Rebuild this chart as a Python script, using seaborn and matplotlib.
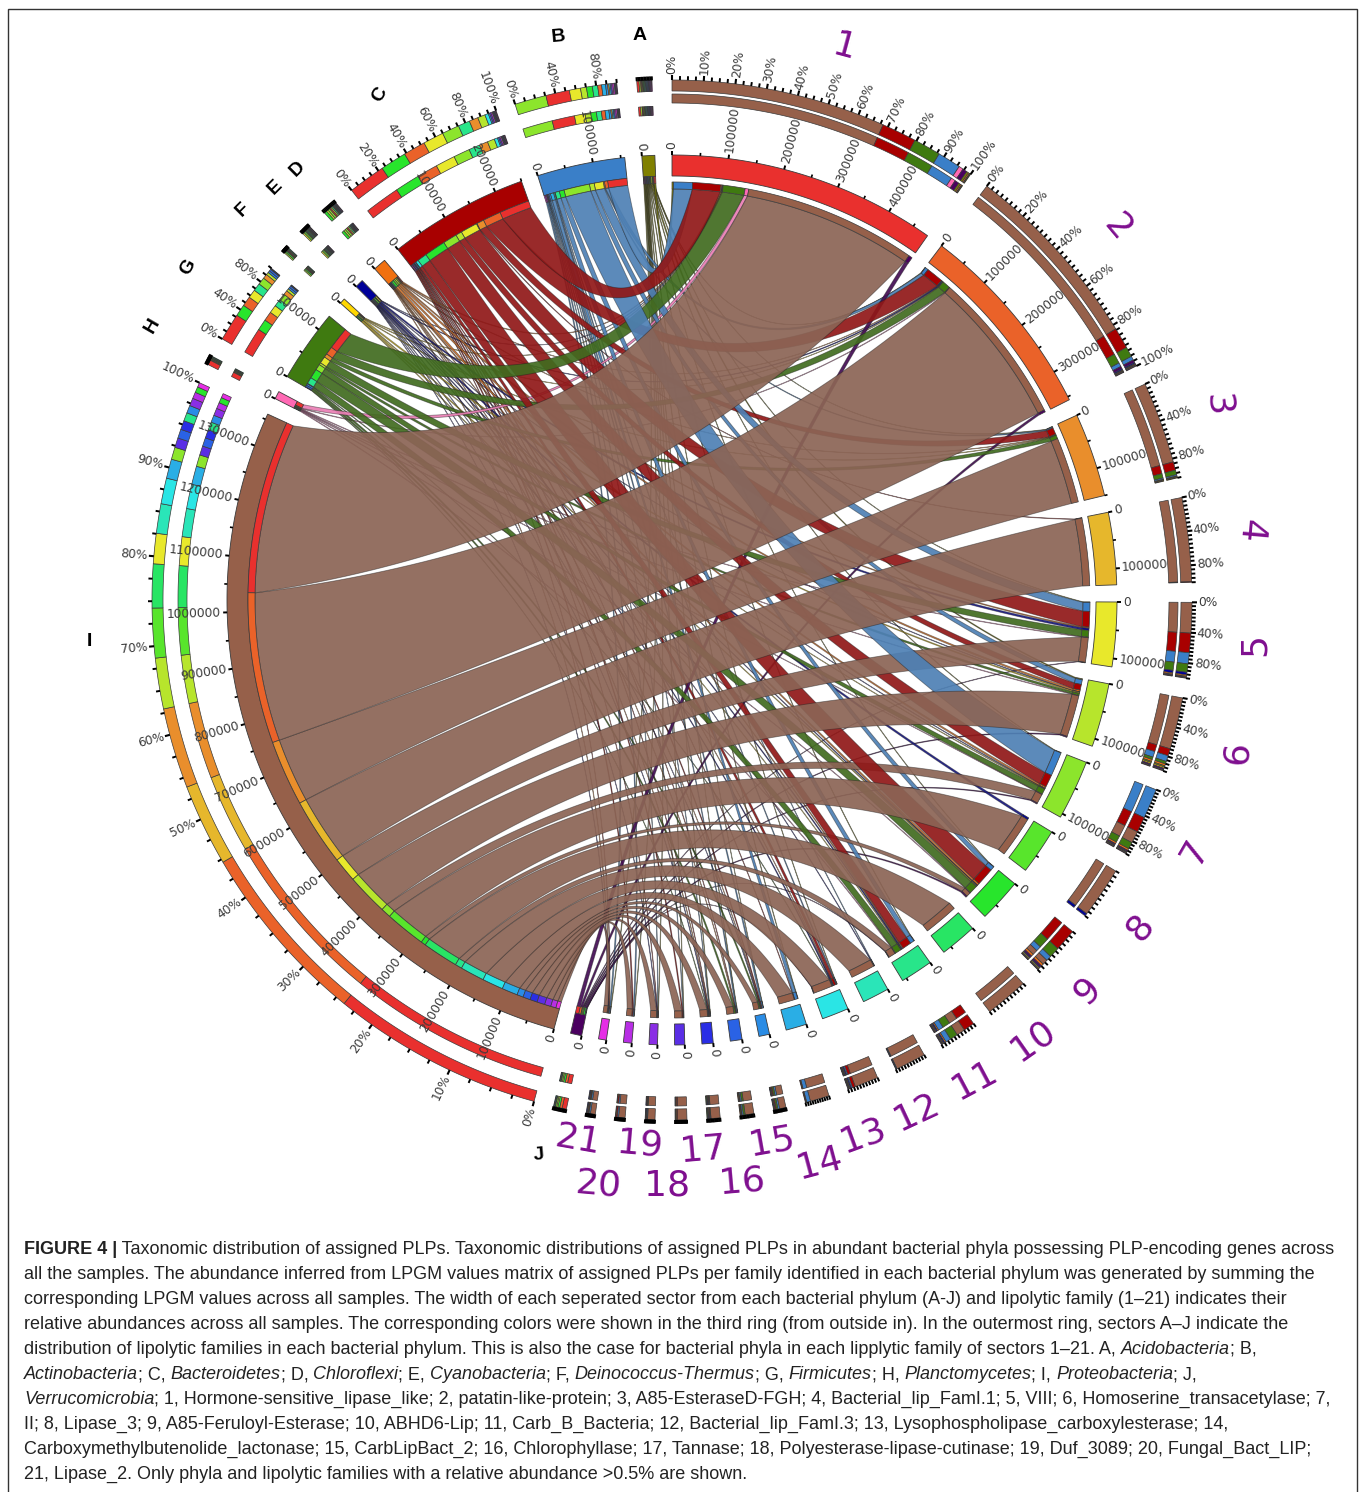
import numpy as np
import matplotlib
matplotlib.use("Agg")
import matplotlib.pyplot as plt
from matplotlib.patches import Polygon, Rectangle
import seaborn as sns

# sector sizes, thousands of LPGM, clockwise from the top
family_names = [str(i) for i in range(1, 22)]
family_totals = [480, 356, 150, 129, 115, 114, 107, 82, 78, 66, 58, 48, 48, 37, 19, 21, 20, 18, 15, 15, 14]
phylum_names = ["J", "I", "H", "G", "F", "E", "D", "C", "B", "A"]
phylum_totals = [20, 1360, 14, 130, 10, 15, 23, 250, 157, 23]

# phylum x family, columns are families 1-21
flow_A = [3, 1, 1, 0, 1, 2, 1, 0, 1, 0, 1, 0, 1, 1, 1, 1, 1, 1, 1, 1, 1]
flow_B = [36, 6, 2, 0, 17, 9, 48, 0, 9, 0, 8, 1, 2, 6, 3, 2, 1, 1, 1, 2, 2]
flow_C = [54, 32, 13, 1, 30, 11, 25, 0, 38, 0, 17, 0, 5, 1, 2, 1, 1, 2, 1, 2, 1]
flow_D = [2, 1, 1, 0, 2, 3, 3, 0, 4, 0, 2, 0, 1, 0, 1, 1, 1, 0, 0, 0, 1]
flow_E = [1, 2, 0, 0, 4, 1, 1, 4, 2, 0, 2, 1, 2, 0, 1, 0, 1, 0, 1, 0, 1]
flow_F = [1, 1, 1, 0, 0, 2, 1, 0, 2, 0, 1, 0, 0, 0, 0, 0, 0, 0, 0, 0, 0]
flow_G = [42, 15, 7, 0, 13, 4, 11, 0, 18, 0, 12, 0, 1, 0, 3, 3, 1, 0, 0, 0, 0]
flow_H = [7, 1, 0, 0, 1, 1, 1, 0, 1, 0, 1, 0, 0, 0, 0, 0, 0, 0, 0, 0, 0]
flow_I = [330, 287, 125, 128, 47, 79, 19, 77, 9, 68, 13, 46, 40, 30, 12, 14, 14, 15, 12, 10, 7]
flow_J = [7, 4, 0, 0, 1, 2, 2, 0, 3, 0, 1, 0, 1, 0, 0, 0, 0, 0, 0, 0, 0]

band_major = 100
band_minor = 50

# percent ring ticks: label step, tick step
family_pct = [(10, 2.5), (20, 2.5), (40, 5), (40, 5), (40, 5), (40, 5), (40, 5)] + [(0, 10)] * 14
phylum_pct = [(0, 10), (10, 2.5), (0, 10), (40, 10), (0, 10), (0, 10), (0, 10), (20, 5), (40, 10), (0, 10)]

family_colors = ["#e9302e", "#ea6229", "#e98e2c", "#e6b72c", "#e8e82b", "#b7e52c", "#8ce52c",
                 "#58e52c", "#28e52c", "#28e564", "#28e58a", "#2ae5b8", "#2ae5e5", "#2aaee5",
                 "#2a8ce5", "#2a62e5", "#2a2ee5", "#5a2ee5", "#8a2ee5", "#b82ee5", "#e52ee5"]
phylum_colors = {"A": "#808000", "B": "#3a7fc8", "C": "#a80000", "D": "#f07010", "E": "#000099",
                 "F": "#ffd700", "G": "#3f7a10", "H": "#ff69b4", "I": "#96604a", "J": "#4b0060"}

caption = [
    "**FIGURE 4 |** Taxonomic distribution of assigned PLPs. Taxonomic distributions of assigned PLPs in abundant bacterial phyla possessing PLP-encoding genes across",
    "all the samples. The abundance inferred from LPGM values matrix of assigned PLPs per family identified in each bacterial phylum was generated by summing the",
    "corresponding LPGM values across all samples. The width of each seperated sector from each bacterial phylum (A-J) and lipolytic family (1–21) indicates their",
    "relative abundances across all samples. The corresponding colors were shown in the third ring (from outside in). In the outermost ring, sectors A–J indicate the",
    "distribution of lipolytic families in each bacterial phylum. This is also the case for bacterial phyla in each lipplytic family of sectors 1–21. A, *Acidobacteria*; B,",
    "*Actinobacteria*; C, *Bacteroidetes*; D, *Chloroflexi*; E, *Cyanobacteria*; F, *Deinococcus-Thermus*; G, *Firmicutes*; H, *Planctomycetes*; I, *Proteobacteria*; J,",
    "*Verrucomicrobia*; 1, Hormone-sensitive_lipase_like; 2, patatin-like-protein; 3, A85-EsteraseD-FGH; 4, Bacterial_lip_FamI.1; 5, VIII; 6, Homoserine_transacetylase; 7,",
    "II; 8, Lipase_3; 9, A85-Feruloyl-Esterase; 10, ABHD6-Lip; 11, Carb_B_Bacteria; 12, Bacterial_lip_FamI.3; 13, Lysophospholipase_carboxylesterase; 14,",
    "Carboxymethylbutenolide_lactonase; 15, CarbLipBact_2; 16, Chlorophyllase; 17, Tannase; 18, Polyesterase-lipase-cutinase; 19, Duf_3089; 20, Fungal_Bact_LIP;",
    "21, Lipase_2. Only phyla and lipolytic families with a relative abundance >0.5% are shown.",
]

# layout, pixels of the picture
CX, CY = 672, 600
family_label_xy = [(845, 47), (1117, 227), (1218, 405), (1250, 530), (1255, 645), (1237, 753), (1195, 852),
                   (1140, 927), (1087, 990), (1033, 1040), (975, 1080), (917, 1112), (863, 1135), (820, 1163),
                   (772, 1142), (742, 1182), (703, 1150), (667, 1185), (640, 1145), (598, 1185), (578, 1140)]
family_label_rot = [-15, -50, -85, -95, 90, 85, 60, 50, 45, 35, 28, 25, 20, 15, 10, 5, 5, 0, -5, -5, -10]
phylum_label_xy = {"A": (640, 35), "B": (558, 37), "C": (380, 95), "D": (298, 169), "E": (275, 187),
                   "F": (243, 210), "G": (188, 267), "H": (152, 326), "I": (89, 642), "J": (539, 1155)}
phylum_label_rot = {"A": 0, "B": 5, "C": 60, "D": 45, "E": 45, "F": 45, "G": 60, "H": 60, "I": 0, "J": 5}

sns.set_style("white")
plt.rcParams["font.family"] = ["DejaVu Sans"]

fig = plt.figure(figsize=(13.6, 14.92), dpi=100)
ax = fig.add_axes([0, 0, 1, 1])
ax.set_xlim(-CX, 1360 - CX)
ax.set_ylim(CY - 1492, CY)
ax.set_axis_off()
sns.despine(ax=ax, left=True, bottom=True)


def polar(r, deg):
    t = np.radians(deg)
    return np.array([r * np.sin(t), r * np.cos(t)]).T


def wedge(r0, r1, a0, a1, color, z=3, lw=0.6):
    n = max(3, int(abs(a1 - a0) * 2) + 2)
    aa = np.linspace(a0, a1, n)
    pts = np.vstack([polar(r1, aa), polar(r0, aa[::-1])])
    ax.add_patch(Polygon(pts, closed=True, facecolor=color, edgecolor="#3a3a3a", linewidth=lw, zorder=z))


def bezier(a, b, r=None):
    diff = (b - a + 180) % 360 - 180
    half = abs(diff) / 2
    rb = 260 * max(0, 1 - half / 85)
    c = polar(rb, a + diff / 2)
    p0 = polar(r[0], a)
    p1 = polar(r[1], b)
    t = np.linspace(0, 1, 60)[:, None]
    return (1 - t) ** 2 * p0 + 2 * t * (1 - t) * c + t ** 2 * p1


def tick(r, deg, length, lw):
    p = polar(np.array([r, r + length]), np.array([deg, deg]))
    ax.plot(p[:, 0], p[:, 1], color="black", lw=lw, solid_capstyle="butt", zorder=4)


def radial_text(r, deg, s, size=8.8):
    d = deg % 360
    x, y = polar(r, d)
    if d <= 180:
        rot, ha = 90 - d, "left"
    else:
        rot, ha = 270 - d, "right"
    ax.text(x, y, s, rotation=rot, rotation_mode="anchor", ha=ha, va="center",
            fontsize=size, color="#3a3a3a", zorder=6)


flows = {"A": flow_A, "B": flow_B, "C": flow_C, "D": flow_D, "E": flow_E,
         "F": flow_F, "G": flow_G, "H": flow_H, "I": flow_I, "J": flow_J}
phylum_order = ["A", "B", "C", "D", "E", "F", "G", "H", "I", "J"]

gap = 2.21
deg_per_unit = (360 - gap * 31) / (sum(family_totals) + sum(phylum_totals))

sectors = []
angle = 0.0
for i, name in enumerate(family_names):
    sectors.append(("family", i, name, family_totals[i], angle, family_colors[i], family_pct[i]))
    angle += family_totals[i] * deg_per_unit + gap
for i, name in enumerate(phylum_names):
    sectors.append(("phylum", i, name, phylum_totals[i], angle, phylum_colors[name], phylum_pct[i]))
    angle += phylum_totals[i] * deg_per_unit + gap

starts = {s[2]: s[4] for s in sectors}
spans = {s[2]: s[3] * deg_per_unit for s in sectors}

# where every link lands on its two sectors
fam_slots = {}
for name in family_names:
    j = int(name) - 1
    col = [flows[p][j] for p in phylum_order]
    scale = spans[name] / sum(col)
    a = starts[name]
    for p, v in zip(phylum_order, col):
        fam_slots[(p, j)] = (a, a + v * scale)
        a += v * scale

phy_slots = {}
for p in phylum_order:
    row = flows[p]
    scale = spans[p] / sum(row)
    a = starts[p]
    for j in range(20, -1, -1):
        phy_slots[(p, j)] = (a, a + row[j] * scale)
        a += row[j] * scale

# links, biggest last so the brown ones lie on top
R_FAM = 411
R_PHY = 417
links = [(flows[p][j], p, j) for p in phylum_order for j in range(21) if flows[p][j] > 0]
links.sort(key=lambda l: l[0])
for order, (v, p, j) in enumerate(links):
    a0, a1 = fam_slots[(p, j)]
    b0, b1 = phy_slots[(p, j)]
    aa = np.linspace(a0, a1, 12)
    bb = np.linspace(b0, b1, max(3, int(b1 - b0) * 3))
    pts = np.vstack([polar(R_FAM, aa), bezier(a1, b0, (R_FAM, R_PHY)),
                     polar(R_PHY, bb), bezier(b1, a0, (R_PHY, R_FAM))])
    face = sns.desaturate(phylum_colors[p], 0.72)
    ax.add_patch(Polygon(pts, closed=True, facecolor=(*face, 0.92), edgecolor=(0.1, 0.1, 0.1, 0.45),
                         linewidth=0.6, zorder=2 + order * 1e-3))

# sector bands, rings and ticks
for kind, i, name, total, a0, color, pct in sectors:
    a1 = a0 + total * deg_per_unit
    wedge(424, 445, a0, a1, color)

    # band ticks and labels
    for v in np.arange(0, total + 1, band_minor):
        deg = a0 + v * deg_per_unit
        if v % band_major == 0:
            tick(445, deg, 4, 1.4)
            radial_text(451, deg, str(int(v) * 1000))
        else:
            tick(445, deg, 3, 1.2)

    # third ring
    if kind == "family":
        j = int(name) - 1
        for p in phylum_order:
            s0, s1 = fam_slots[(p, j)]
            if s1 > s0:
                wedge(411, 418, s0, s1, phylum_colors[p], lw=0.5)
        ring_parts = [(flows[p][j], phylum_colors[p]) for p in phylum_order if flows[p][j] > 0]
        rings = [(497, 506), (509, 520)]
    else:
        for j in range(21):
            s0, s1 = phy_slots[(name, j)]
            if s1 > s0:
                wedge(417, 424, s0, s1, family_colors[j], lw=0.5)
        ring_parts = [(flows[name][j], family_colors[j]) for j in range(21) if flows[name][j] > 0]
        rings = [(485, 494), (509, 520)]

    # the two outer percent rings, biggest share first
    ring_parts.sort(key=lambda x: -x[0])
    whole = sum(x[0] for x in ring_parts)
    for r0, r1 in rings:
        a = a0
        for v, c in ring_parts:
            step = v / whole * (a1 - a0)
            wedge(r0, r1, a, a + step, c, lw=0.5)
            a += step

    label_step, tick_step = pct
    for q in np.arange(0, 100.01, tick_step):
        deg = a0 + q / 100 * (a1 - a0)
        if label_step and q % label_step == 0:
            tick(520, deg, 5, 1.5)
            radial_text(526, deg, f"{int(q)}%")
        else:
            tick(520, deg, 4, 1.4)

for name, (x, y), rot in zip(family_names, family_label_xy, family_label_rot):
    ax.text(x - CX, CY - y, name, rotation=rot, rotation_mode="anchor", ha="center", va="center",
            fontsize=26, color="#7f0f8f", zorder=6)

for name in phylum_names:
    x, y = phylum_label_xy[name]
    ax.text(x - CX, CY - y, name, rotation=phylum_label_rot[name], rotation_mode="anchor",
            ha="center", va="center", fontsize=14, fontweight="bold", color="black",
            family="Liberation Sans", zorder=6)

# frame of the figure page
ax.add_patch(Rectangle((8 - CX, CY - 1500), 1349, 1491, fill=False, edgecolor="#333333", linewidth=1.0, zorder=1))

# caption, written run by run because of the bold and italic words
renderer = fig.canvas.get_renderer()
CAP_SIZE = 13.0


def run_width(s, **kw):
    a = ax.text(0, 0, "x" + s + "x", fontsize=CAP_SIZE, family="Liberation Sans", **kw)
    b = ax.text(0, 0, "xx", fontsize=CAP_SIZE, family="Liberation Sans", **kw)
    w = a.get_window_extent(renderer).width - b.get_window_extent(renderer).width
    a.remove()
    b.remove()
    return w


for n, line in enumerate(caption):
    y = 1249 + n * 25.1
    x = 24.0
    if line.startswith("**"):
        bold, line = line[2:].split("**", 1)
        ax.text(x - CX, CY - y, bold, fontsize=CAP_SIZE, family="Liberation Sans", fontweight="bold",
                va="center", color="#222222")
        x += run_width(bold, fontweight="bold")
    for k, part in enumerate(line.split("*")):
        style = "italic" if k % 2 else "normal"
        ax.text(x - CX, CY - y, part, fontsize=CAP_SIZE, family="Liberation Sans", fontstyle=style,
                va="center", color="#222222")
        x += run_width(part, fontstyle=style)

fig.savefig("out.png", dpi=100, facecolor="white")
